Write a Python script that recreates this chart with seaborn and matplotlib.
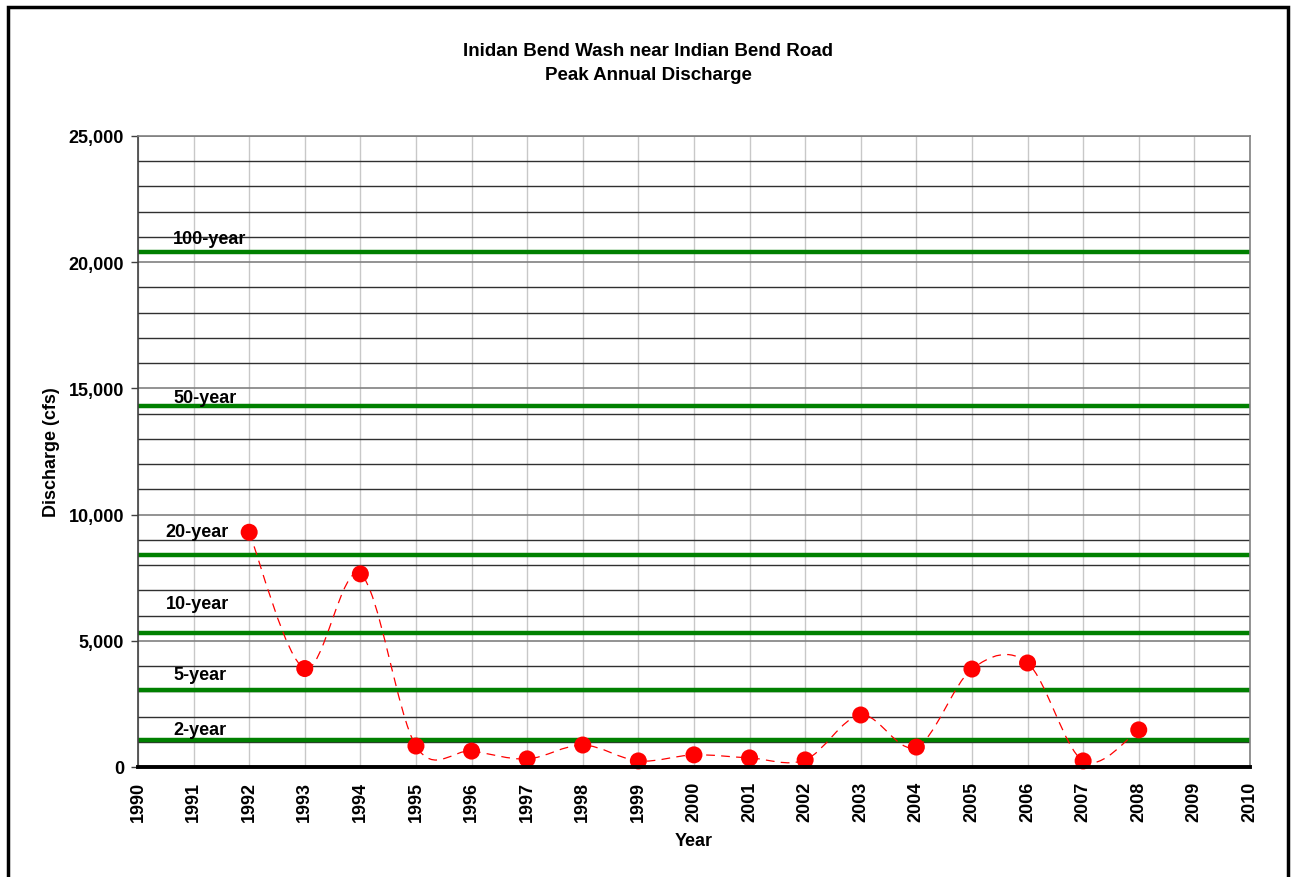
import numpy as np
import pandas as pd
import seaborn as sns
import matplotlib.pyplot as plt
from matplotlib.path import Path
from matplotlib.patches import PathPatch, Rectangle
from matplotlib.ticker import FuncFormatter, MultipleLocator

# Peak annual discharge (cfs)
years = [1992, 1993, 1994, 1995, 1996, 1997, 1998, 1999, 2000,
         2001, 2002, 2003, 2004, 2005, 2006, 2007, 2008]
peaks = [9300, 3900, 7650, 830, 630, 320, 870, 240, 480,
         360, 280, 2060, 790, 3880, 4120, 240, 1470]

# Return-period discharges (cfs)
return_labels = ["100-year", "50-year", "20-year", "10-year", "5-year", "2-year"]
return_values = [20400, 14300, 8400, 5300, 3050, 1070]

title = "Inidan Bend Wash near Indian Bend Road\nPeak Annual Discharge"

sns.set_theme(style="white")
plt.rcParams['font.family'] = ['Liberation Sans', 'DejaVu Sans']
plt.rcParams['font.weight'] = 'bold'
plt.rcParams['text.color'] = 'black'
plt.rcParams['axes.labelcolor'] = 'black'
plt.rcParams['xtick.color'] = 'black'
plt.rcParams['ytick.color'] = 'black'

df = pd.DataFrame({"Year": years, "Discharge": peaks})

fig = plt.figure(figsize=(12.93, 8.78), dpi=100)
ax = fig.add_axes([0.1067, 0.1253, 0.86, 0.7187])

# outer chart frame
fig.patches.append(Rectangle((8 / 1293, -0.05), 1280 / 1293, 1 - 8 / 878 + 0.05,
                             transform=fig.transFigure, fill=False,
                             edgecolor='black', linewidth=2.5))

ax.set_xlim(1990, 2010)
ax.set_ylim(0, 25000)
ax.xaxis.set_major_locator(MultipleLocator(1))
ax.yaxis.set_major_locator(MultipleLocator(5000))
ax.yaxis.set_minor_locator(MultipleLocator(1000))
ax.yaxis.set_major_formatter(FuncFormatter(lambda v, p: f"{int(v):,}"))

ax.grid(axis='x', which='major', color='#c8c8c8', linewidth=1, zorder=0)
ax.grid(axis='y', which='minor', color='#303030', linewidth=1, zorder=0)
ax.grid(axis='y', which='major', color='#808080', linewidth=1.2, zorder=0)
ax.set_axisbelow(True)

# return-period lines
for lab, val in zip(return_labels, return_values):
    ax.axhline(val, color='#008000', linewidth=3.2, zorder=2)

label_y = [20920, 14620, 9310, 6460, 3650, 1470]
label_x = [1990.63, 1990.63, 1990.5, 1990.5, 1990.63, 1990.63]
for lab, lx, ly in zip(return_labels, label_x, label_y):
    ax.text(lx, ly, lab, fontsize=13, fontweight='bold', va='center', ha='left',
            color='black', zorder=3)

# smoothed dashed connector (Catmull-Rom style bezier, like spreadsheet smoothing)
pts = np.column_stack([years, peaks]).astype(float)
ext = np.vstack([pts[0], pts, pts[-1]])
verts = [tuple(pts[0])]
codes = [Path.MOVETO]
for i in range(1, len(ext) - 2):
    p0, p1, p2, p3 = ext[i - 1], ext[i], ext[i + 1], ext[i + 2]
    c1 = p1 + (p2 - p0) / 6
    c2 = p2 - (p3 - p1) / 6
    verts += [tuple(c1), tuple(c2), tuple(p2)]
    codes += [Path.CURVE4] * 3
ax.add_patch(PathPatch(Path(verts, codes), facecolor='none', edgecolor='#ff0000',
                       linewidth=0.9, linestyle=(0, (7, 5)), zorder=4))

sns.scatterplot(data=df, x="Year", y="Discharge", ax=ax, color='#ff0000',
                s=150, edgecolor='none', zorder=5, clip_on=False)

ax.set_xticks(range(1990, 2011))
ax.set_xticklabels([str(y) for y in range(1990, 2011)], rotation=90,
                   fontsize=13, fontweight='bold')
ax.tick_params(axis='x', which='major', direction='out', length=6, width=2.5,
               color='black', pad=4)
ax.tick_params(axis='y', which='major', direction='out', length=5, width=1,
               color='#404040', labelsize=13, left=True, pad=5)
ax.tick_params(axis='y', which='minor', left=False)
for t in ax.get_yticklabels():
    t.set_fontweight('bold')

for side in ['top', 'right']:
    ax.spines[side].set_color('#808080')
    ax.spines[side].set_linewidth(1.2)
ax.spines['left'].set_color('#404040')
ax.spines['left'].set_linewidth(1.2)
ax.spines['bottom'].set_color('black')
ax.spines['bottom'].set_linewidth(2.8)
ax.spines['bottom'].set_zorder(6)

ax.set_xlabel("Year", fontsize=13, fontweight='bold', labelpad=8)
ax.set_ylabel("Discharge (cfs)", fontsize=13, fontweight='bold', labelpad=6)

fig.text(0.5013, 0.928, title, ha='center', va='center', fontsize=13.5,
         fontweight='bold', linespacing=1.55)

fig.savefig("out.png", dpi=100)
plt.close(fig)
